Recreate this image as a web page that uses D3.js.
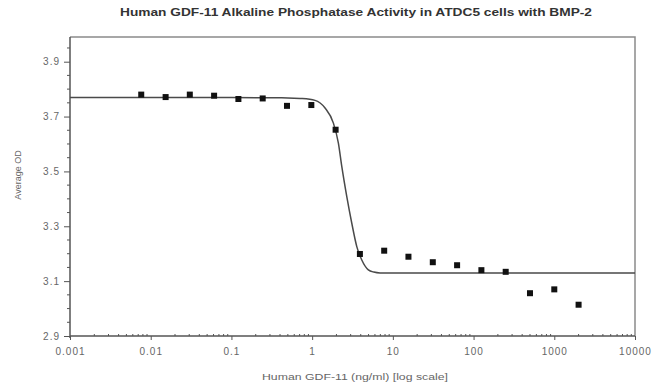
<!DOCTYPE html>
<html>
<head>
<meta charset="utf-8">
<script src="https://cdn.jsdelivr.net/npm/d3@7"></script>
<style>
  body { margin: 0; background: #fff; }
  text { font-family: "Liberation Sans", Arial, sans-serif; }
</style>
</head>
<body>
<svg id="chart" width="654" height="385"></svg>
<script>
// Data
const doses = [0.00763, 0.0153, 0.0305, 0.061, 0.122, 0.244, 0.488, 0.977, 1.953,
  3.906, 7.81, 15.6, 31.25, 62.5, 125, 250, 500, 1000, 2000];
const avgOD = [3.780, 3.771, 3.780, 3.776, 3.764, 3.766, 3.739, 3.742, 3.652,
  3.199, 3.211, 3.189, 3.169, 3.158, 3.140, 3.134, 3.056, 3.070, 3.014];

// fitted curve
const curveX = [0.001, 0.1, 0.5, 0.708, 1.087, 1.445, 1.834, 2.114, 2.329, 2.687,
  3.099, 3.574, 4.122, 4.97, 5.8, 6.94, 9, 100, 10000];
const curveY = [3.769, 3.769, 3.768, 3.766, 3.759, 3.731, 3.676, 3.603, 3.518, 3.408,
  3.311, 3.226, 3.177, 3.141, 3.133, 3.130, 3.130, 3.130, 3.130];

const xTicks = [0.001, 0.01, 0.1, 1, 10, 100, 1000, 10000];
const xTickLabels = ["0.001", "0.01", "0.1", "1", "10", "100", "1000", "10000"];
const yTicks = [2.9, 3.1, 3.3, 3.5, 3.7, 3.9];

const title = "Human GDF-11 Alkaline Phosphatase Activity in ATDC5 cells with BMP-2";
const xTitle = "Human GDF-11 (ng/ml) [log scale]";
const yTitle = "Average OD";

const margins = { top: 37, right: 19, bottom: 49, left: 70 };
const width = 654, height = 385;

const svg = d3.select("#chart");

const x = d3.scaleLog()
  .domain([0.001, 10000])
  .range([margins.left, width - margins.right]);
const y = d3.scaleLinear()
  .domain([2.9, 3.99])
  .range([height - margins.bottom, margins.top]);

const axisColor = "#555";
const labelColor = "#666";

// box (top + right)
svg.append("path")
  .attr("d", `M${margins.left},${margins.top}H${width - margins.right}V${height - margins.bottom}`)
  .attr("fill", "none")
  .attr("stroke", "#8a8a8a")
  .attr("stroke-width", 1.5);

// minor ticks x
const xMinor = [];
for (let e = -3; e < 4; e++) for (let m = 2; m < 10; m++) xMinor.push(m * Math.pow(10, e));
svg.append("g")
  .selectAll("line")
  .data(xMinor)
  .join("line")
  .attr("x1", d => x(d)).attr("x2", d => x(d))
  .attr("y1", y(2.9) - 2).attr("y2", y(2.9))
  .attr("stroke", axisColor);

// minor ticks y
const yMinor = d3.range(2.95, 3.99, 0.05).filter(v => Math.abs((v - 2.9) / 0.2 - Math.round((v - 2.9) / 0.2)) > 0.01);
svg.append("g")
  .selectAll("line")
  .data(yMinor)
  .join("line")
  .attr("x1", margins.left - 3).attr("x2", margins.left)
  .attr("y1", d => y(d)).attr("y2", d => y(d))
  .attr("stroke", axisColor);

// x axis
const xAxisG = svg.append("g")
  .attr("transform", `translate(0,${y(2.9)})`)
  .call(d3.axisBottom(x).tickValues(xTicks).tickFormat((d, i) => xTickLabels[i]).tickSize(4).tickPadding(8))
  .call(g => g.select(".domain").attr("stroke", axisColor).attr("stroke-width", 1.5).attr("d", `M${margins.left},0H${width - margins.right}`));
xAxisG.selectAll(".tick line").attr("stroke", axisColor);
xAxisG.selectAll(".tick text").attr("fill", labelColor).style("font-size", "10px").style("letter-spacing", "1px");

// y axis
const yAxisG = svg.append("g")
  .attr("transform", `translate(${margins.left},0)`)
  .call(d3.axisLeft(y).tickValues(yTicks).tickFormat(d3.format(".1f")).tickSize(6).tickPadding(4))
  .call(g => g.select(".domain").attr("stroke", axisColor).attr("stroke-width", 1.5).attr("d", `M0,${y(2.9) + 2}V${margins.top}`));
yAxisG.selectAll(".tick line").attr("stroke", axisColor);
yAxisG.selectAll(".tick text").attr("fill", labelColor).style("font-size", "10px").style("letter-spacing", "1px");

// curve
const line = d3.line()
  .x(d => x(d[0]))
  .y(d => y(d[1]))
  .curve(d3.curveMonotoneX);
svg.append("path")
  .datum(curveX.map((d, i) => [d, curveY[i]]))
  .attr("d", line)
  .attr("fill", "none")
  .attr("stroke", "#4a4a4a")
  .attr("stroke-width", 1.5);

// points
const sq = 6;
svg.append("g")
  .selectAll("rect")
  .data(doses.map((d, i) => [d, avgOD[i]]))
  .join("rect")
  .attr("x", d => x(d[0]) - sq / 2)
  .attr("y", d => y(d[1]) - sq / 2)
  .attr("width", sq)
  .attr("height", sq)
  .attr("fill", "#111");

// titles
svg.append("text")
  .attr("x", 356).attr("y", 16)
  .attr("text-anchor", "middle")
  .attr("fill", "#333")
  .attr("font-weight", "bold")
  .attr("textLength", 472)
  .attr("lengthAdjust", "spacingAndGlyphs")
  .style("font-size", "10px")
  .text(title);

svg.append("text")
  .attr("x", 355).attr("y", 380)
  .attr("text-anchor", "middle")
  .attr("fill", labelColor)
  .attr("textLength", 186)
  .attr("lengthAdjust", "spacingAndGlyphs")
  .style("font-size", "9px")
  .text(xTitle);

svg.append("text")
  .attr("transform", `translate(21,175) rotate(-90)`)
  .attr("text-anchor", "middle")
  .attr("fill", labelColor)
  .style("font-size", "9px")
  .text(yTitle);
</script>
</body>
</html>
